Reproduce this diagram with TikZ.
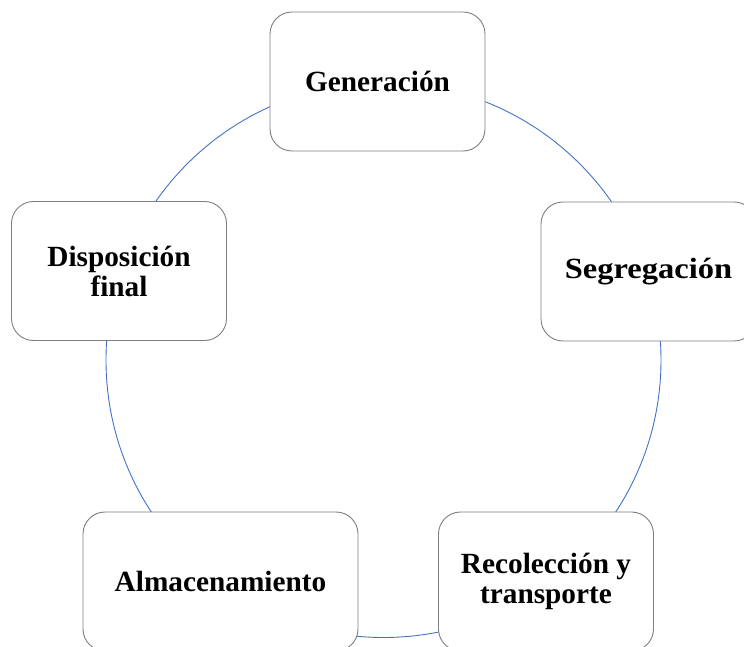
\documentclass[tikz,border=0pt]{standalone}
\usepackage{fontspec}
\setmainfont{Liberation Serif}
\usepackage{tikz}

\definecolor{ringblue}{HTML}{4472C4}
\definecolor{boxgray}{HTML}{7F7F7F}

\begin{document}
\begin{tikzpicture}[x=1pt, y=-1pt]
        \tikzstyle{every node}=[draw=boxgray, line width=0.9pt, fill=white, rounded corners=22pt, minimum width=215pt, minimum height=139pt, align=center, font=\fontsize{29.3}{30}\selectfont\bfseries]

        \useasboundingbox (0,0) rectangle (744,647);
        \clip (0,0) rectangle (744,647);

        \coordinate (c) at (383.5,360);
        \draw[ringblue, line width=0.9pt] (c) circle[radius=277.5pt];

        \node (gen)  at (377.5,81.5) {Generación};
        \node (seg)  at (648.5,271.5) {\scalebox{1.11}[1]{Segregación}};
        \node (rec)  at (546,581.5) {Recolección y\\transporte};
        \node (alm)  [minimum width=275pt] at (220.5,581.5) {Almacenamiento};
        \node (disp) at (119,271) {Disposición\\final};

    \end{tikzpicture}
\end{document}
